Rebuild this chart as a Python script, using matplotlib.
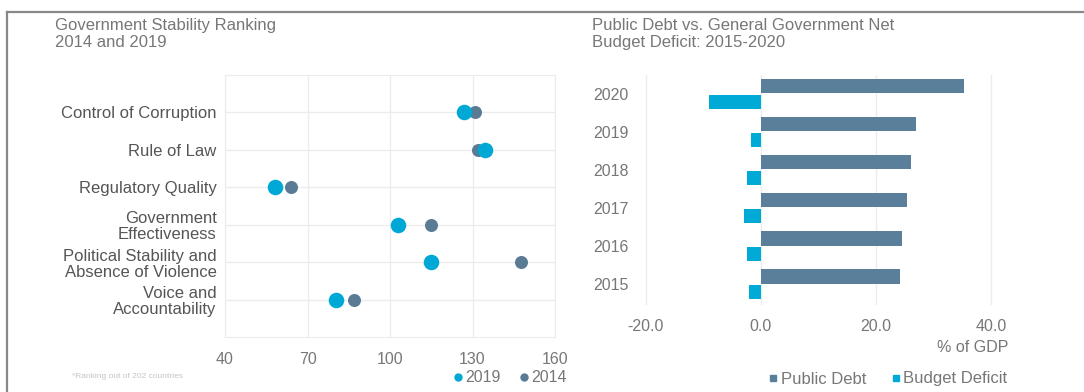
import matplotlib.pyplot as plt
import numpy as np
from matplotlib.lines import Line2D

plt.rcParams['font.family'] = ['Liberation Sans', 'DejaVu Sans']

# Government stability ranking (left panel)
categories = ['Control of Corruption', 'Rule of Law', 'Regulatory Quality',
              'Government\nEffectiveness', 'Political Stability and\nAbsence of Violence',
              'Voice and\nAccountability']
rank_2019 = [127, 134.5, 58, 103, 115, 80.5]
rank_2014 = [131, 132, 64, 115, 147.5, 87]
rank_ticks = [40, 70, 100, 130, 160]

# Public debt vs. budget deficit (right panel)
years = ['2015', '2016', '2017', '2018', '2019', '2020']
public_debt = [24.1, 24.5, 25.3, 26.0, 27.0, 35.3]
budget_deficit = [-2.0, -2.5, -2.9, -2.4, -1.7, -9.0]
gdp_ticks = [-20, 0, 20, 40]

C_2019 = '#00a8d6'
C_2014 = '#5a7b94'
C_DEBT = '#5a7f9b'
C_DEF = '#00aad6'
GRID = '#ececec'
TXT = '#555555'
LIGHT = '#777777'

fig = plt.figure(figsize=(10.84, 3.92), dpi=100)

# outer frame (top and left edges)
fig.add_artist(Line2D([7 / 1084, 1], [1 - 12 / 392, 1 - 12 / 392], color='#888888', lw=1.6))
fig.add_artist(Line2D([7 / 1084, 7 / 1084], [0, 1 - 12 / 392], color='#888888', lw=1.6))

# ---- left: dot plot
ax1 = fig.add_axes([225 / 1084, 55 / 392, 330 / 1084, 262 / 392])
ypos = np.arange(len(categories))
ax1.scatter(rank_2014, ypos, s=88, color=C_2014, zorder=3, linewidths=0)
ax1.scatter(rank_2019, ypos, s=125, color=C_2019, zorder=4, linewidths=0)
ax1.set_xlim(40, 160)
ax1.set_ylim(6, -1)
ax1.set_xticks(rank_ticks)
ax1.set_yticks(ypos)
ax1.set_yticklabels(categories, fontsize=12, color=TXT, linespacing=1.1)
ax1.tick_params(axis='x', length=0, pad=11, labelsize=11.5, labelcolor=LIGHT)
ax1.tick_params(axis='y', length=0, pad=6)
ax1.grid(True, color=GRID, lw=1)
ax1.set_axisbelow(True)
for s in ax1.spines.values():
    s.set_color(GRID)

fig.text(55 / 1084, 1 - 34 / 392, 'Government Stability Ranking\n2014 and 2019',
         fontsize=12, color=LIGHT, va='center', ha='left', linespacing=1.2)
fig.text(72 / 1084, 1 - 377 / 392, '*Ranking out of 202 countries',
         fontsize=6, color='#c4c4c4', va='center', ha='left')

leg1 = [Line2D([0], [0], marker='o', ls='', color=C_2019, markersize=5, label='2019'),
        Line2D([0], [0], marker='o', ls='', color=C_2014, markersize=5, label='2014')]
fig.legend(handles=leg1, loc='center', bbox_to_anchor=(509 / 1084, 1 - 378 / 392),
           ncol=2, frameon=False, fontsize=11.5, handletextpad=0.05, columnspacing=1.1,
           handlelength=0.8, labelcolor=LIGHT, borderpad=0)

# ---- right: horizontal bars
ax2 = fig.add_axes([640 / 1084, 87 / 392, 357 / 1084, 230 / 392])
ypos2 = np.arange(len(years))
ax2.barh(ypos2 + 0.2, public_debt, height=0.37, color=C_DEBT, zorder=3)
ax2.barh(ypos2 - 0.2, budget_deficit, height=0.37, color=C_DEF, zorder=3)
ax2.set_xlim(-21, 41)
ax2.set_ylim(-0.55, 5.5)
ax2.set_xticks(gdp_ticks)
ax2.set_xticklabels([f'{v:.1f}' for v in gdp_ticks])
ax2.set_yticks(ypos2)
ax2.set_yticklabels(years)
ax2.tick_params(axis='x', length=0, pad=10, labelsize=11.5, labelcolor=LIGHT)
ax2.tick_params(axis='y', length=0, pad=8, labelsize=11.5, labelcolor=LIGHT)
ax2.grid(True, axis='x', color=GRID, lw=1)
ax2.set_axisbelow(True)
for s in ax2.spines.values():
    s.set_visible(False)

fig.text(592 / 1084, 1 - 34 / 392, 'Public Debt vs. General Government Net\nBudget Deficit: 2015-2020',
         fontsize=12, color=LIGHT, va='center', ha='left', linespacing=1.2)
fig.text(1008 / 1084, 1 - 347 / 392, '% of GDP', fontsize=11.5, color=LIGHT,
         va='center', ha='right')

leg2 = [Line2D([0], [0], marker='s', ls='', color=C_DEBT, markersize=5, label='Public Debt'),
        Line2D([0], [0], marker='s', ls='', color=C_DEF, markersize=5, label='Budget Deficit')]
fig.legend(handles=leg2, loc='center', bbox_to_anchor=(887 / 1084, 1 - 379 / 392),
           ncol=2, frameon=False, fontsize=12, handletextpad=0.05, columnspacing=1.4,
           handlelength=0.8, labelcolor=LIGHT, borderpad=0)

fig.savefig('out.png', dpi=100)
